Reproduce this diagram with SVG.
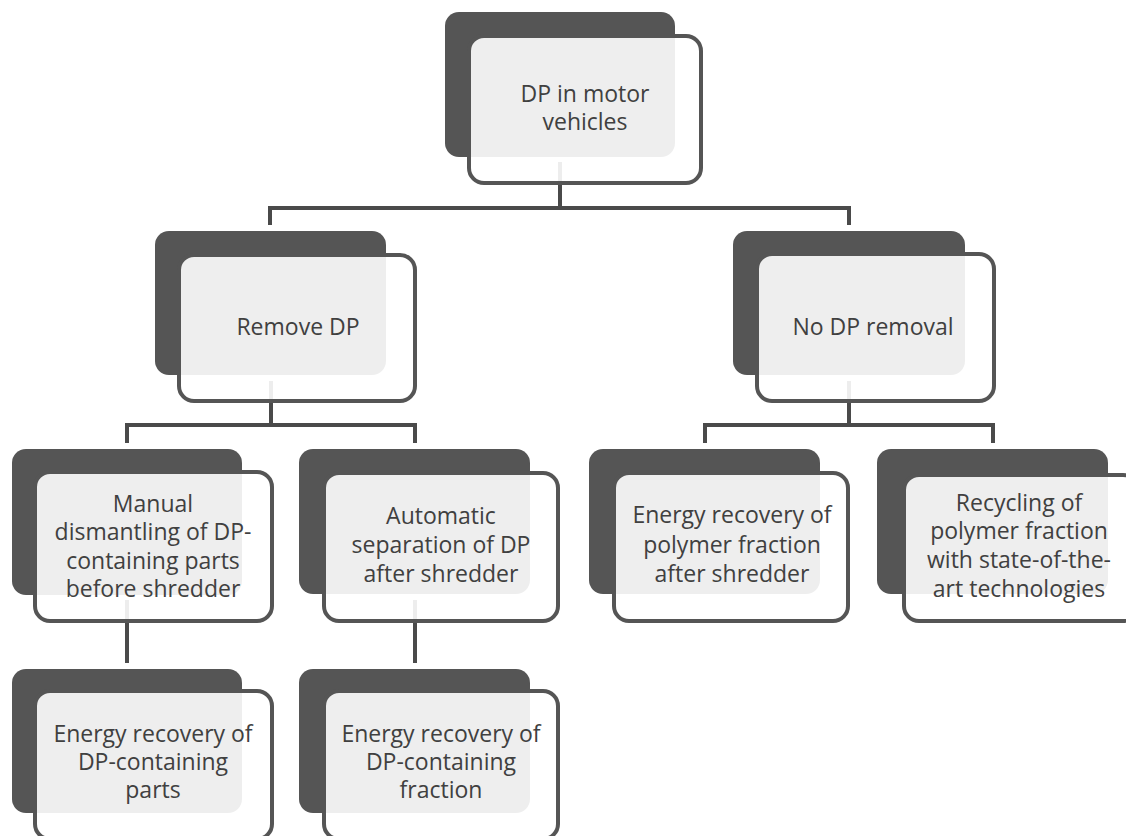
<svg xmlns="http://www.w3.org/2000/svg" width="1126" height="836" viewBox="0 0 1126 836">
<style>
.dark{fill:#555555;}
.front{fill:#ffffff;fill-opacity:0.9;stroke:#555555;stroke-width:4;}
.lbl{font-family:"Open Sans","Noto Sans",sans-serif;font-size:23px;fill:#404040;text-anchor:middle;}
.conn{fill:none;stroke:#4a4a4a;stroke-width:4;stroke-linejoin:miter;}
</style>
<rect width="1126" height="836" fill="#ffffff"/>
<g id="connectors">
<path class="conn" d="M560,162 V208 M270,225 V208 H849 V225"/>
<path class="conn" d="M271,381 V425 M127,443 V425 H415 V443"/>
<path class="conn" d="M849,381 V425 M705,443 V425 H993 V443"/>
<path class="conn" d="M127,600 V663"/>
<path class="conn" d="M415,600 V663"/>
</g>
<g id="n-top">
<rect class="dark" x="445" y="12" width="230" height="145" rx="14"/>
<rect class="front" x="469" y="36" width="232" height="147" rx="15"/>
<text class="lbl" x="585" y="102">DP in motor</text>
<text class="lbl" x="585" y="130">vehicles</text>
</g>
<g id="n-remove">
<rect class="dark" x="155" y="231" width="231" height="144" rx="14"/>
<rect class="front" x="179" y="255" width="236" height="146" rx="15"/>
<text class="lbl" x="298" y="335">Remove DP</text>
</g>
<g id="n-noremove">
<rect class="dark" x="733" y="231" width="232" height="144" rx="14"/>
<rect class="front" x="757" y="254" width="237" height="147" rx="15"/>
<text class="lbl" x="873" y="335">No DP removal</text>
</g>
<g id="n-manual">
<rect class="dark" x="12" y="449" width="230" height="146" rx="14"/>
<rect class="front" x="35" y="472" width="237" height="149" rx="15"/>
<text class="lbl" x="153" y="512">Manual</text>
<text class="lbl" x="153" y="540">dismantling of DP-</text>
<text class="lbl" x="153" y="569">containing parts</text>
<text class="lbl" x="153" y="597">before shredder</text>
</g>
<g id="n-automatic">
<rect class="dark" x="299" y="449" width="231" height="145" rx="14"/>
<rect class="front" x="324" y="473" width="234" height="148" rx="15"/>
<text class="lbl" x="441" y="524">Automatic</text>
<text class="lbl" x="441" y="553">separation of DP</text>
<text class="lbl" x="441" y="582">after shredder</text>
</g>
<g id="n-energy-polymer">
<rect class="dark" x="589" y="449" width="231" height="145" rx="14"/>
<rect class="front" x="614" y="473" width="234" height="148" rx="15"/>
<text class="lbl" x="732" y="523">Energy recovery of</text>
<text class="lbl" x="732" y="553">polymer fraction</text>
<text class="lbl" x="732" y="582">after shredder</text>
</g>
<g id="n-recycling">
<rect class="dark" x="877" y="449" width="231" height="145" rx="14"/>
<rect class="front" x="904" y="475" width="234" height="146" rx="15"/>
<text class="lbl" x="1019" y="511">Recycling of</text>
<text class="lbl" x="1019" y="539">polymer fraction</text>
<text class="lbl" x="1019" y="568">with state-of-the-</text>
<text class="lbl" x="1019" y="597">art technologies</text>
</g>
<g id="n-energy-parts">
<rect class="dark" x="12" y="669" width="230" height="144" rx="14"/>
<rect class="front" x="35" y="691" width="237" height="148" rx="15"/>
<text class="lbl" x="153" y="742">Energy recovery of</text>
<text class="lbl" x="153" y="770">DP-containing</text>
<text class="lbl" x="153" y="798">parts</text>
</g>
<g id="n-energy-fraction">
<rect class="dark" x="299" y="669" width="231" height="144" rx="14"/>
<rect class="front" x="324" y="691" width="234" height="148" rx="15"/>
<text class="lbl" x="441" y="742">Energy recovery of</text>
<text class="lbl" x="441" y="770">DP-containing</text>
<text class="lbl" x="441" y="798">fraction</text>
</g>
</svg>
